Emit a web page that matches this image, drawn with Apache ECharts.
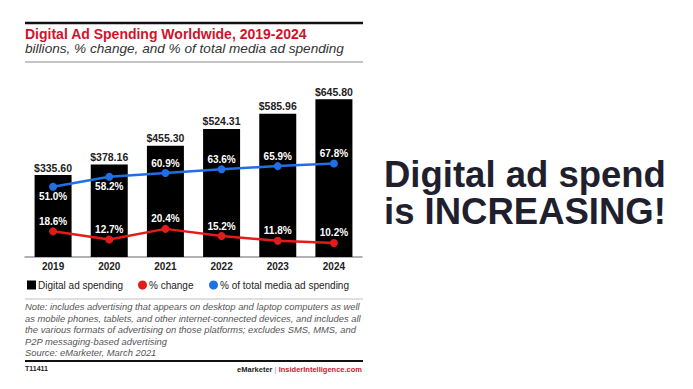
<!DOCTYPE html>
<html><head><meta charset="utf-8">
<script src="https://cdn.jsdelivr.net/npm/echarts@6/dist/echarts.min.js"></script>
<style>html,body{margin:0;padding:0;background:#fff}#c{width:693px;height:389px}</style>
</head><body><div id="c"></div>
<script>
const years = ['2019','2020','2021','2022','2023','2024'];
const spending = [335.60, 378.16, 455.30, 524.31, 585.96, 645.80];
const pctChange = [18.6, 12.7, 20.4, 15.2, 11.8, 10.2];
const pctOfTotal = [51.0, 58.2, 60.9, 63.6, 65.9, 67.8];
const seriesNames = ['Digital ad spending', '% change', '% of total media ad spending'];
const noteLines = [
  'Note: includes advertising that appears on desktop and laptop computers as well',
  'as mobile phones, tablets, and other internet-connected devices, and includes all',
  'the various formats of advertising on those platforms; excludes SMS, MMS, and',
  'P2P messaging-based advertising',
  'Source: eMarketer, March 2021'
];

const F = '"Liberation Sans", Arial, sans-serif';
const chart = echarts.init(document.getElementById('c'), null, {renderer: 'svg'});

const graphics = [
  {type:'line', shape:{x1:25,y1:23,x2:363,y2:23}, style:{stroke:'#111',lineWidth:2.5}},
  {type:'text', left:25, top:27, style:{text:'Digital Ad Spending Worldwide, 2019-2024', font:'bold 14px '+F, fill:'#d0132b'}},
  {type:'text', left:25, top:41, style:{text:'billions, % change, and % of total media ad spending', font:'italic 13.6px '+F, fill:'#333'}},
  {type:'line', shape:{x1:25,y1:62,x2:363,y2:62}, style:{stroke:'#b0b0b0',lineWidth:1.5}},
  {type:'line', shape:{x1:25,y1:299,x2:363,y2:299}, style:{stroke:'#c0c0c0',lineWidth:1}},
  {type:'line', shape:{x1:25,y1:361,x2:363,y2:361}, style:{stroke:'#111',lineWidth:2}},
  {type:'text', left:25, top:365, style:{text:'T11411', font:'bold 7px '+F, fill:'#222'}},
  {type:'text', right:331, top:365, style:{text:'{a|eMarketer} {g||} {b|InsiderIntelligence.com}', font:'bold 7.5px '+F,
     rich:{a:{fill:'#222',font:'bold 7.5px '+F}, g:{fill:'#999',font:'7.5px '+F}, b:{fill:'#d0132b',font:'bold 7.5px '+F}}}},
  {type:'text', left:384, top:156, style:{text:'Digital ad spend\nis INCREASING!', font:'bold 36.5px '+F, fill:'#1f1f2e', lineHeight:37}}
];
noteLines.forEach((t,i)=>{
  graphics.push({type:'text', left:25, top:302 + i*11.5, style:{text:t, font:'italic 9.4px '+F, fill:'#555'}});
});

const legendBase = {top:280, padding:0, itemWidth:9, itemHeight:9,
  textStyle:{fontSize:10, color:'#222', padding:[0,0,0,-3]}};

chart.setOption({
  animation:false,
  textStyle:{fontFamily:F},
  grid:{left:25, right:331, top:86, bottom:132},
  legend:[
    Object.assign({left:27, data:[{name:seriesNames[0], icon:'rect'}]}, legendBase),
    Object.assign({left:138, data:[{name:seriesNames[1], icon:'circle'}]}, legendBase),
    Object.assign({left:209, data:[{name:seriesNames[2], icon:'circle'}]}, legendBase)
  ],
  xAxis:{type:'category', data:years,
    axisLine:{lineStyle:{color:'#999', width:1.5}}, axisTick:{show:false},
    axisLabel:{fontWeight:'bold', fontSize:10, color:'#222', margin:4}},
  yAxis:[
    {type:'value', min:0, max:700, show:false, splitLine:{show:false}},
    {type:'value', min:0, max:124, show:false, splitLine:{show:false}}
  ],
  series:[
    {name:seriesNames[0], type:'bar', data:spending, barWidth:37, itemStyle:{color:'#000'},
     label:{show:true, position:'top', distance:2, fontWeight:'bold', fontSize:10.5, color:'#222',
       formatter:p=>'$'+p.value.toFixed(2)}},
    {name:seriesNames[1], type:'line', yAxisIndex:1, data:pctChange, symbol:'circle', symbolSize:8,
     itemStyle:{color:'#e31b1b'}, lineStyle:{color:'#e31b1b', width:2.5},
     label:{show:true, position:'top', distance:1, color:'#fff', fontSize:10, fontWeight:'bold',
       formatter:p=>p.value.toFixed(1)+'%'}},
    {name:seriesNames[2], type:'line', yAxisIndex:1,
     data:pctOfTotal.map((v,i)=>({value:v, label:{position: i<2 ? 'bottom':'top'}})),
     symbol:'circle', symbolSize:8,
     itemStyle:{color:'#1f6fe5'}, lineStyle:{color:'#1f6fe5', width:2.5},
     label:{show:true, position:'top', distance:1, color:'#fff', fontSize:10, fontWeight:'bold',
       formatter:p=>p.value.toFixed(1)+'%'}}
  ],
  graphic:graphics
});
</script></body></html>
